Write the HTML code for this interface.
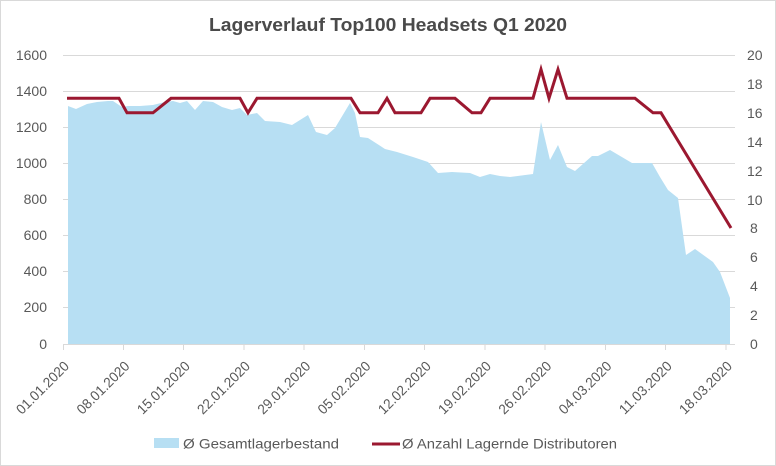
<!DOCTYPE html>
<html><head><meta charset="utf-8"><style>
html,body{margin:0;padding:0;background:#fff;}
svg{display:block;}
text{font-family:"Liberation Sans",Arial,sans-serif;}
</style></head><body>
<svg width="776" height="466" viewBox="0 0 776 466" xmlns="http://www.w3.org/2000/svg">
<rect x="0.5" y="0.5" width="775" height="465" fill="#fff" stroke="#d9d9d9" stroke-width="1"/>
<text x="388" y="31" text-anchor="middle" font-size="18" font-weight="bold" fill="#4a4a4a" textLength="358" lengthAdjust="spacingAndGlyphs">Lagerverlauf Top100 Headsets Q1 2020</text>
<g stroke="#d9d9d9" stroke-width="1">
<line x1="63" y1="55.5" x2="735" y2="55.5"/>
<line x1="63" y1="91.5" x2="735" y2="91.5"/>
<line x1="63" y1="127.5" x2="735" y2="127.5"/>
<line x1="63" y1="163.5" x2="735" y2="163.5"/>
<line x1="63" y1="199.5" x2="735" y2="199.5"/>
<line x1="63" y1="235.5" x2="735" y2="235.5"/>
<line x1="63" y1="271.5" x2="735" y2="271.5"/>
<line x1="63" y1="307.5" x2="735" y2="307.5"/>
</g>
<polygon fill="#b7dff3" points="68,106 76,109 87,104 97,102 108,101 113,101 122,107 128,106 140,106 153,105 165,102 173,101 180,103 187,101 195,110 203,101 213,102 222,107 232,110 240,108 247,115 257,113 265,121 280,122 292,125 308,115 316,132 327,135 335,128 350,103 355,113 360,137 368,138 385,149 397,152 413,157 428,162 438,173 452,172 470,173 480,177 490,174 500,176 510,177 533,174 541,122 550,160 558,145 567,167 575,171 592,156 598,156 610,150 632,163 652,163 660,177 668,190 678,198 686,255 695,249 713,262 720,272 730,298 730,344 68,344"/>
<g stroke="#d9d9d9" stroke-width="1">
<line x1="63" y1="344.5" x2="735" y2="344.5"/>
<line x1="63.5" y1="344" x2="63.5" y2="350"/>
<line x1="123.5" y1="344" x2="123.5" y2="350"/>
<line x1="183.5" y1="344" x2="183.5" y2="350"/>
<line x1="244" y1="344" x2="244" y2="350"/>
<line x1="304" y1="344" x2="304" y2="350"/>
<line x1="364.5" y1="344" x2="364.5" y2="350"/>
<line x1="424.5" y1="344" x2="424.5" y2="350"/>
<line x1="485" y1="344" x2="485" y2="350"/>
<line x1="545" y1="344" x2="545" y2="350"/>
<line x1="605.5" y1="344" x2="605.5" y2="350"/>
<line x1="665.5" y1="344" x2="665.5" y2="350"/>
<line x1="726" y1="344" x2="726" y2="350"/>
</g>
<polyline fill="none" stroke="#9b1830" stroke-width="3" stroke-linejoin="miter" points="67,98.3 119,98.3 127,112.8 153,112.8 171,98.3 240,98.3 248,112.8 257,98.3 351,98.3 360,112.8 378,112.8 387,98.3 395,112.8 421,112.8 430,98.3 455,98.3 472,112.8 481,112.8 490,98.3 533,98.3 541,69.4 549,98.3 558,69.4 567,98.3 635,98.3 653,112.8 661,112.8 731,228"/>
<g font-size="14" fill="#595959" text-anchor="end">
<text x="47" y="60">1600</text>
<text x="47" y="96">1400</text>
<text x="47" y="132">1200</text>
<text x="47" y="168">1000</text>
<text x="47" y="204">800</text>
<text x="47" y="240">600</text>
<text x="47" y="276">400</text>
<text x="47" y="312">200</text>
<text x="47" y="349">0</text>
</g>
<g font-size="14" fill="#595959">
<text x="747" y="60">20</text>
<text x="747" y="89">18</text>
<text x="747" y="118">16</text>
<text x="747" y="147">14</text>
<text x="747" y="176">12</text>
<text x="747" y="205">10</text>
<text x="750" y="233">8</text>
<text x="750" y="262">6</text>
<text x="750" y="291">4</text>
<text x="750" y="320">2</text>
<text x="750" y="349">0</text>
</g>
<g font-size="14" fill="#595959" text-anchor="end">
<text x="70" y="367" transform="rotate(-45 70 367)" textLength="68" lengthAdjust="spacingAndGlyphs">01.01.2020</text>
<text x="130.5" y="367" transform="rotate(-45 130.5 367)" textLength="68" lengthAdjust="spacingAndGlyphs">08.01.2020</text>
<text x="190.8" y="367" transform="rotate(-45 190.8 367)" textLength="68" lengthAdjust="spacingAndGlyphs">15.01.2020</text>
<text x="251" y="367" transform="rotate(-45 251 367)" textLength="68" lengthAdjust="spacingAndGlyphs">22.01.2020</text>
<text x="311.3" y="367" transform="rotate(-45 311.3 367)" textLength="68" lengthAdjust="spacingAndGlyphs">29.01.2020</text>
<text x="371.5" y="367" transform="rotate(-45 371.5 367)" textLength="68" lengthAdjust="spacingAndGlyphs">05.02.2020</text>
<text x="431.8" y="367" transform="rotate(-45 431.8 367)" textLength="68" lengthAdjust="spacingAndGlyphs">12.02.2020</text>
<text x="492" y="367" transform="rotate(-45 492 367)" textLength="68" lengthAdjust="spacingAndGlyphs">19.02.2020</text>
<text x="552.3" y="367" transform="rotate(-45 552.3 367)" textLength="68" lengthAdjust="spacingAndGlyphs">26.02.2020</text>
<text x="612.5" y="367" transform="rotate(-45 612.5 367)" textLength="68" lengthAdjust="spacingAndGlyphs">04.03.2020</text>
<text x="672.8" y="367" transform="rotate(-45 672.8 367)" textLength="68" lengthAdjust="spacingAndGlyphs">11.03.2020</text>
<text x="733" y="367" transform="rotate(-45 733 367)" textLength="68" lengthAdjust="spacingAndGlyphs">18.03.2020</text>
</g>
<rect x="154" y="438" width="25" height="10" fill="#b7dff3"/>
<text x="183" y="448.5" font-size="14" fill="#595959" textLength="156" lengthAdjust="spacingAndGlyphs">Ø Gesamtlagerbestand</text>
<line x1="372" y1="444" x2="400" y2="444" stroke="#9b1830" stroke-width="3"/>
<text x="402" y="448.5" font-size="14" fill="#595959" textLength="215" lengthAdjust="spacingAndGlyphs">Ø Anzahl Lagernde Distributoren</text>
</svg>
</body></html>
